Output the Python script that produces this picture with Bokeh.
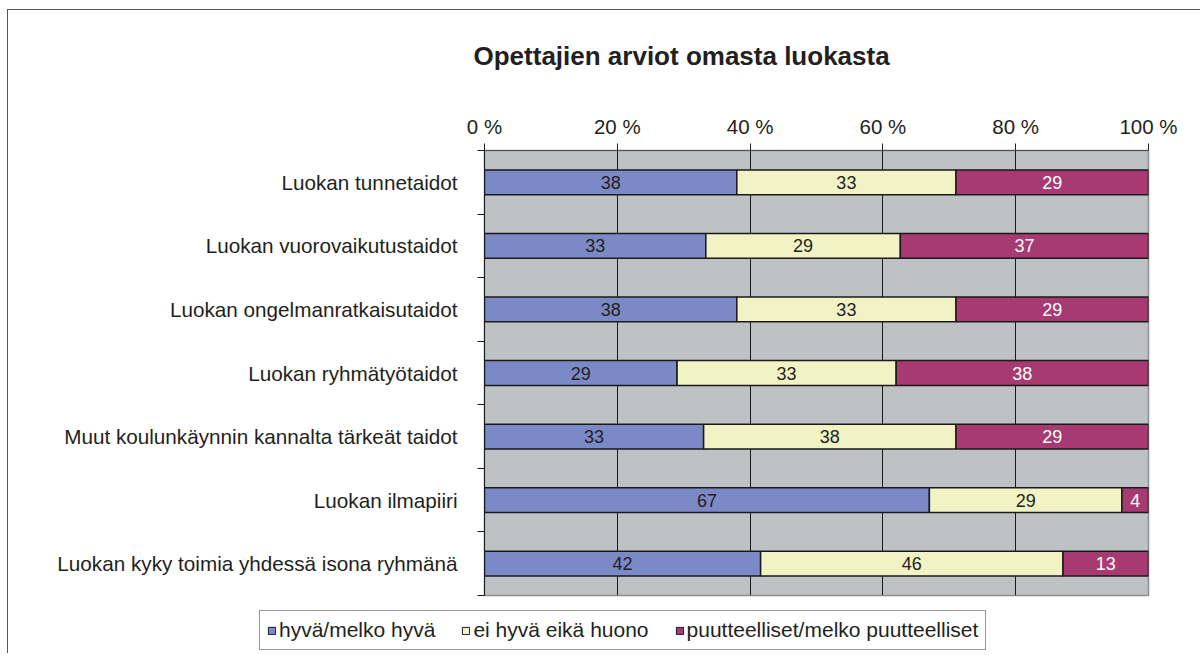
import numpy as np
from bokeh.plotting import figure
from bokeh.models import Range1d, FixedTicker, ColumnDataSource, Legend, LegendItem
from bokeh.core.properties import value
from bokeh.embed import file_html
from bokeh.resources import INLINE

title_text = "Opettajien arviot omasta luokasta"
categories = [
    "Luokan tunnetaidot",
    "Luokan vuorovaikutustaidot",
    "Luokan ongelmanratkaisutaidot",
    "Luokan ryhmätyötaidot",
    "Muut koulunkäynnin kannalta tärkeät taidot",
    "Luokan ilmapiiri",
    "Luokan kyky toimia yhdessä isona ryhmänä",
]
series_names = ["hyvä/melko hyvä", "ei hyvä eikä huono", "puutteelliset/melko puutteelliset"]
good = [38, 33, 38, 29, 33, 67, 42]
neutral = [33, 29, 33, 33, 38, 29, 46]
poor = [29, 37, 29, 38, 29, 4, 13]
x_ticks = [0, 20, 40, 60, 80, 100]
x_tick_labels = ["0 %", "20 %", "40 %", "60 %", "80 %", "100 %"]

colors = ["#7B8AC6", "#F2F3C4", "#A73A70"]
label_colors = ["#231F20", "#231F20", "#FFFFFF"]
FONT = "Liberation Sans"
TXT = "#231F20"
BORDER = "1px solid #555555"

vals = np.array([good, neutral, poor], dtype=float)
pct = vals / vals.sum(axis=0) * 100.0
rights = np.cumsum(pct, axis=0)
lefts = rights - pct
ypos = list(range(len(categories)))

# ---- title holder (top strip) ----
pt = figure(width=1193, height=70, x_range=Range1d(0, 1), y_range=Range1d(0, 1),
            x_axis_location=None, y_axis_location=None,
            output_backend="svg", toolbar_location=None,
            min_border_left=476, min_border_right=53,
            min_border_top=60, min_border_bottom=0)
pt.styles = {"margin-left": "7px", "margin-top": "9px",
             "border-left": BORDER, "border-top": BORDER}
pt.grid.visible = False
pt.outline_line_color = None
pt.background_fill_color = "white"
pt.border_fill_color = "white"
pt.title.text = title_text
pt.title.align = "left"
pt.title.offset = -11
pt.title.standoff = 0
pt.title.text_font = FONT
pt.title.text_font_size = "26px"
pt.title.text_font_style = "bold"
pt.title.text_color = TXT

# ---- main chart ----
p = figure(width=1193, height=530,
           x_range=Range1d(0, 100), y_range=Range1d(6.5, -0.5),
           x_axis_location="above",
           output_backend="svg", toolbar_location=None,
           min_border_left=476, min_border_right=53,
           min_border_top=71, min_border_bottom=14)
p.styles = {"margin-left": "7px", "border-left": BORDER}
p.background_fill_color = "#BEC2C4"
p.border_fill_color = "white"
p.outline_line_color = "#8E8E8E"
p.outline_line_width = 1.5

p.xgrid.ticker = FixedTicker(ticks=[20, 40, 60, 80])
p.xgrid.grid_line_color = "#1a1a1a"
p.xgrid.grid_line_width = 1
p.ygrid.visible = False

xa = p.xaxis[0]
xa.ticker = FixedTicker(ticks=x_ticks)
xa.major_label_overrides = {t: l for t, l in zip(x_ticks, x_tick_labels)}
xa.axis_line_color = "#505050"
xa.major_tick_line_color = "#231F20"
xa.major_tick_out = 7
xa.major_tick_in = 0
xa.minor_tick_line_color = None
xa.major_label_text_font = FONT
xa.major_label_text_font_size = "20.5px"
xa.major_label_text_color = TXT
xa.major_label_standoff = 6

ya = p.yaxis[0]
ya.ticker = FixedTicker(ticks=ypos, minor_ticks=[k - 0.5 for k in range(len(categories) + 1)])
ya.major_label_overrides = {i: c for i, c in enumerate(categories)}
ya.axis_line_color = "#1a1a1a"
ya.major_tick_line_color = None
ya.major_tick_out = 0
ya.major_tick_in = 0
ya.minor_tick_line_color = "#1a1a1a"
ya.minor_tick_out = 7
ya.minor_tick_in = 0
ya.major_label_text_font = FONT
ya.major_label_text_font_size = "20.7px"
ya.major_label_text_color = TXT
ya.major_label_standoff = 20

# ---- legend holder (its bars lie far outside its ranges; used only by the legend) ----
pl = figure(width=1193, height=44,
            x_range=Range1d(-1000, -999), y_range=Range1d(-1000, -999),
            x_axis_location=None, y_axis_location=None,
            output_backend="svg", toolbar_location=None,
            min_border_left=0, min_border_right=0,
            min_border_top=0, min_border_bottom=0)
pl.styles = {"margin-left": "7px", "border-left": BORDER}
pl.grid.visible = False
pl.outline_line_color = None
pl.background_fill_color = "white"
pl.border_fill_color = "white"

items = []
for i in range(3):
    src = ColumnDataSource(dict(
        y=ypos,
        left=lefts[i],
        right=rights[i],
        mid=(lefts[i] + rights[i]) / 2.0,
        txt=[str(v) for v in vals[i].astype(int)],
    ))
    p.hbar(y="y", left="left", right="right", height=0.39, source=src,
           fill_color=colors[i], line_color="#1a1a1a", line_width=1.5)
    p.text(x="mid", y="y", text="txt", source=src,
           text_align="center", text_baseline="middle",
           text_font=value(FONT), text_font_size="18px",
           text_color=label_colors[i])
    r = pl.hbar(y="y", left="left", right="right", height=0.39, source=src,
                fill_color=colors[i], line_color="#1a1a1a", line_width=1)
    items.append(LegendItem(label=series_names[i], renderers=[r]))

legend = Legend(items=items, orientation="horizontal", location=(251, 3))
legend.label_text_font = FONT
legend.label_text_font_size = "21px"
legend.label_text_color = TXT
legend.glyph_width = 9
legend.glyph_height = 9
legend.label_standoff = 3
legend.spacing = 26
legend.padding = 7
legend.margin = 0
legend.border_line_color = "#333333"
legend.border_line_width = 1
legend.background_fill_color = "white"
legend.background_fill_alpha = 1.0
pl.add_layout(legend)

open("out.html", "w").write(file_html([pt, p, pl], INLINE))
